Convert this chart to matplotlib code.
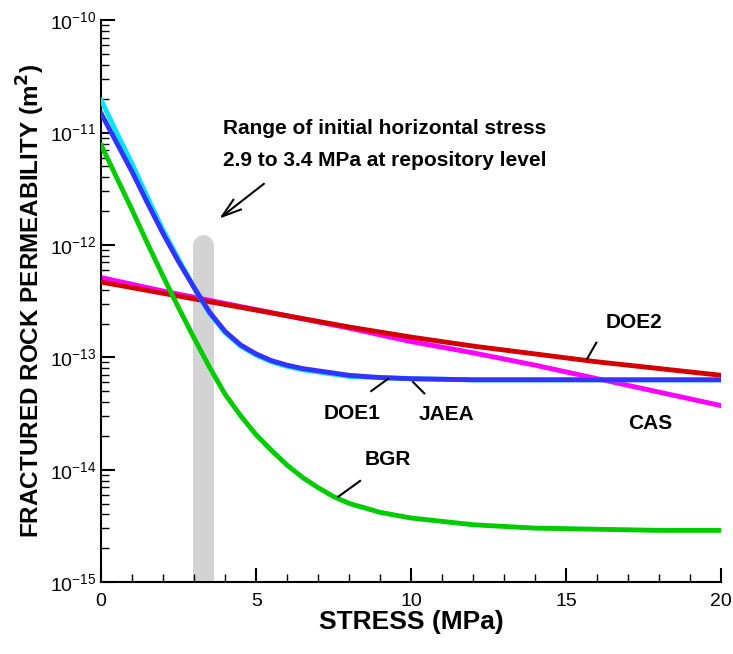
import numpy as np
import matplotlib.pyplot as plt

plt.rcParams['font.family'] = ['Liberation Sans', 'DejaVu Sans']

# log10 permeability (m^2)
stress_fast = [0, 0.5, 1, 1.5, 2, 2.5, 3, 3.5, 4, 4.5, 5, 5.5, 6, 6.5, 7, 7.5, 8, 9, 10, 12, 14, 16, 18, 20]
jaea = [-10.83, -11.09, -11.35, -11.63, -11.90, -12.15, -12.38, -12.60, -12.77, -12.89, -12.97, -13.03,
        -13.07, -13.10, -13.12, -13.14, -13.16, -13.18, -13.19, -13.20, -13.20, -13.20, -13.20, -13.20]
doe1 = [-10.71, -11.00, -11.28, -11.58, -11.87, -12.13, -12.38, -12.61, -12.78, -12.90, -12.98, -13.04,
        -13.08, -13.11, -13.13, -13.15, -13.17, -13.18, -13.19, -13.20, -13.20, -13.20, -13.20, -13.20]
bgr = [-11.11, -11.40, -11.69, -11.99, -12.28, -12.56, -12.83, -13.09, -13.33, -13.52, -13.69, -13.83,
       -13.96, -14.07, -14.16, -14.24, -14.30, -14.38, -14.43, -14.49, -14.52, -14.53, -14.54, -14.54]

stress_slow = [0, 2, 4, 6, 8, 10, 12, 14, 16, 18, 20]
doe2 = [-12.33, -12.43, -12.53, -12.63, -12.73, -12.82, -12.90, -12.97, -13.04, -13.10, -13.16]
cas = [-12.29, -12.41, -12.52, -12.63, -12.74, -12.86, -12.96, -13.07, -13.19, -13.31, -13.43]

fig = plt.figure(figsize=(7.33, 6.54), dpi=100)
ax = fig.add_axes([0.138, 0.110, 0.846, 0.859])

ax.plot([3.3, 3.3], [1e-15, 1.0e-12], color='#d3d3d3', lw=15, solid_capstyle='round', zorder=1)

p = lambda v: 10.0 ** np.array(v)
ax.plot(stress_slow, p(cas), color='#ff00ff', lw=3.5, zorder=2)
ax.plot(stress_slow, p(doe2), color='#d40000', lw=3.5, zorder=3)
ax.plot(stress_fast, p(doe1), color='#00e5ff', lw=3.5, zorder=4)
ax.plot(stress_fast, p(jaea), color='#3333ff', lw=3.5, zorder=5)
ax.plot(stress_fast, p(bgr), color='#00cc00', lw=3.5, zorder=6)

ax.set_yscale('log')
ax.set_xlim(0, 20)
ax.set_ylim(1e-15, 1e-10)
ax.set_xticks([0, 5, 10, 15, 20])
ax.set_xticks(np.arange(0, 21, 1), minor=True)
ax.tick_params(which='both', direction='in', labelsize=14)
ax.tick_params(which='major', length=10, width=1.5)
ax.tick_params(which='minor', length=6, width=1)
ax.tick_params(axis='x', pad=8)
for s in ['top', 'right']:
    ax.spines[s].set_visible(False)
for s in ['left', 'bottom']:
    ax.spines[s].set_linewidth(1.5)

ax.set_xlabel('STRESS (MPa)', fontsize=19, fontweight='bold', labelpad=0)
ax.set_ylabel('FRACTURED ROCK PERMEABILITY (m$^\\mathbf{2}$)', fontsize=17.5, fontweight='bold', labelpad=2)

kw = dict(fontsize=15, fontweight='bold', ha='center', va='center')
ax.text(3.94, 10**-10.96, 'Range of initial horizontal stress', fontsize=15, fontweight='bold', va='center')
ax.text(3.94, 10**-11.25, '2.9 to 3.4 MPa at repository level', fontsize=15, fontweight='bold', va='center')
ax.annotate('', xy=(3.74, 10**-11.78), xytext=(5.32, 10**-11.44),
            arrowprops=dict(arrowstyle='->,head_length=1.4,head_width=0.45', lw=1.5, color='black'))

labels = [('DOE2', 17.2, -12.69, (15.97, -12.87), (15.68, -13.01)),
          ('DOE1', 8.1, -13.50, (8.71, -13.30), (9.26, -13.19)),
          ('JAEA', 11.13, -13.51, (10.42, -13.32), (10.06, -13.22)),
          ('CAS', 17.7, -13.59, None, None),
          ('BGR', 9.23, -13.91, (8.35, -14.10), (7.65, -14.24))]
for name, tx, ty, a, b in labels:
    ax.text(tx, 10**ty, name, **kw)
    if a:
        ax.plot([a[0], b[0]], [10**a[1], 10**b[1]], color='black', lw=1.5, zorder=7)

fig.savefig('out.png', dpi=100)
